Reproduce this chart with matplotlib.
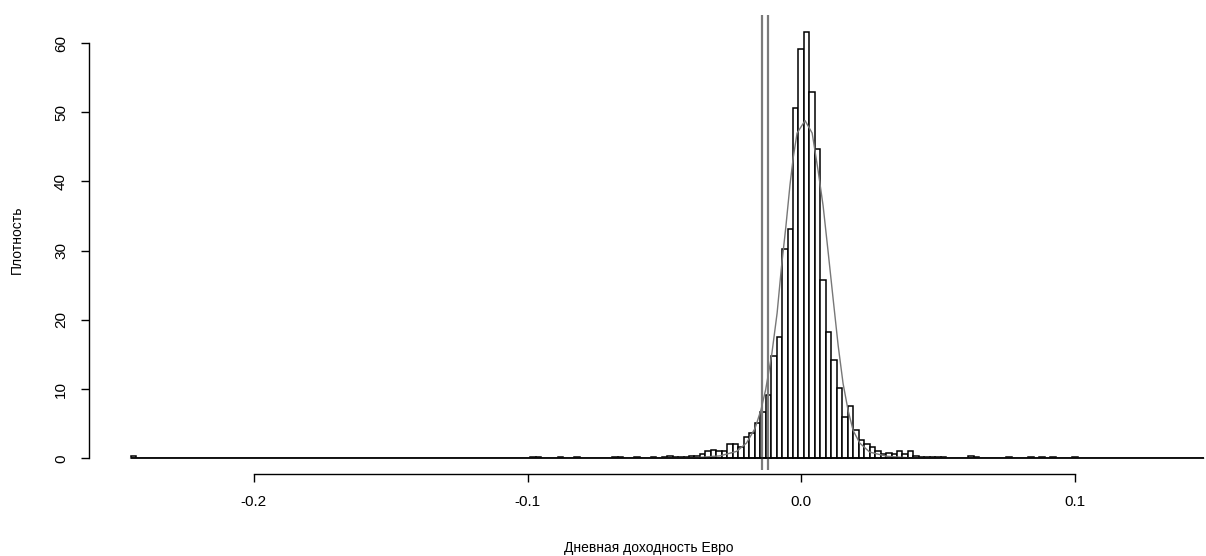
import numpy as np
import matplotlib
matplotlib.use("Agg")
import matplotlib.pyplot as plt

plt.rcParams['font.family'] = ['Liberation Sans', 'DejaVu Sans']

# histogram: left edge of each non-empty bin and its density
bin_width = 0.002
first_break = -0.245
last_break = 0.147
bin_left = [-0.245,
            -0.099, -0.097, -0.089, -0.083, -0.069, -0.067, -0.061, -0.055,
            -0.051, -0.049, -0.047, -0.045, -0.043, -0.041, -0.039, -0.037,
            -0.035, -0.033, -0.031, -0.029, -0.027, -0.025, -0.023, -0.021,
            -0.019, -0.017, -0.015, -0.013, -0.011, -0.009, -0.007, -0.005,
            -0.003, -0.001, 0.001, 0.003, 0.005, 0.007, 0.009, 0.011,
            0.013, 0.015, 0.017, 0.019, 0.021, 0.023, 0.025, 0.027,
            0.029, 0.031, 0.033, 0.035, 0.037, 0.039, 0.041, 0.043,
            0.045, 0.047, 0.049, 0.051, 0.061, 0.063, 0.075, 0.083,
            0.087, 0.091, 0.099]
density = [0.4,
           0.2, 0.2, 0.2, 0.2, 0.2, 0.2, 0.2, 0.2,
           0.2, 0.4, 0.2, 0.2, 0.2, 0.4, 0.4, 0.6,
           1.0, 1.2, 1.1, 1.0, 2.0, 2.0, 1.6, 3.1,
           3.7, 5.1, 6.7, 9.2, 14.8, 17.6, 30.3, 33.2,
           50.6, 59.2, 61.6, 53.0, 44.7, 25.8, 18.3, 14.2,
           10.1, 6.0, 7.6, 4.1, 2.7, 2.0, 1.7, 1.0,
           0.6, 0.8, 0.6, 1.0, 0.6, 1.0, 0.4, 0.2,
           0.2, 0.2, 0.2, 0.2, 0.4, 0.2, 0.2, 0.2,
           0.2, 0.2, 0.2]

# fitted density curve
curve_x = [-0.245, -0.06, -0.04, -0.0297, -0.0236, -0.020, -0.0169, -0.0147,
           -0.013, -0.0108, -0.0088, -0.0072, -0.0056, -0.0041, -0.0029,
           -0.0015, 0.0014, 0.004, 0.0062, 0.008, 0.0099, 0.0117, 0.0135,
           0.0153, 0.0172, 0.019, 0.0214, 0.025, 0.0312, 0.04, 0.06, 0.147]
curve_y = [0, 0, 0.05, 0.35, 1.0, 2.2, 4.3, 7.0,
           9.9, 14.9, 21.0, 27.7, 33.5, 39.5, 43.5,
           47.0, 48.8, 47.0, 41.5, 36.5, 29.6, 22.9, 16.3,
           10.8, 6.8, 4.0, 2.2, 0.9, 0.3, 0.05, 0, 0]

# vertical reference lines
vlines = [-0.0145, -0.0121]

xticks = [-0.2, -0.1, 0.0, 0.1]
yticks = [0, 10, 20, 30, 40, 50, 60]

# full set of bins (empty ones give the baseline like R's hist)
edges = np.round(np.arange(first_break, last_break + bin_width / 2, bin_width), 4)
heights = np.zeros(len(edges) - 1)
for left, d in zip(bin_left, density):
    heights[int(round((left - first_break) / bin_width))] = d

fig = plt.figure(figsize=(12.06, 5.56), dpi=100)
ax = fig.add_axes([100 / 1206, 86 / 556, 1106 / 1206, 455 / 556])

ax.bar(edges[:-1], heights, width=bin_width, align='edge',
       facecolor='white', edgecolor='black', linewidth=1.1)
ax.plot(curve_x, curve_y, color='#777777', linewidth=1.0)
ax.hlines(0, edges[0], edges[-1], color='black', linewidth=1.1, zorder=3)
for v in vlines:
    ax.axvline(v, color='#7a7a7a', linewidth=1.6)

ax.set_xlim(-0.2562, 0.1479)
ax.set_ylim(-1.69, 64.06)

for s in ['top', 'right']:
    ax.spines[s].set_visible(False)
ax.spines['left'].set_position(('outward', 8))
ax.spines['left'].set_bounds(0, 60)
ax.spines['bottom'].set_position(('outward', 3))
ax.spines['bottom'].set_bounds(-0.2, 0.1)
ax.spines['left'].set_linewidth(1.0)
ax.spines['bottom'].set_linewidth(1.0)

ax.set_xticks(xticks)
ax.set_xticklabels(['-0.2', '-0.1', '0.0', '0.1'])
ax.set_yticks(yticks)
ax.tick_params(direction='out', length=6, width=1.0, labelsize=11)
ax.tick_params(axis='x', pad=9)
ax.tick_params(axis='y', pad=9)
for lab in ax.get_yticklabels():
    lab.set_rotation(90)
    lab.set_va('center')

fig.text(17 / 1206, 1 - 240 / 556, 'Плотность', rotation=90,
         ha='center', va='center', fontsize=10)
fig.text(649 / 1206, 1 - 548 / 556, 'Дневная доходность Евро',
         ha='center', va='center', fontsize=10)

fig.savefig('out.png', dpi=100)
